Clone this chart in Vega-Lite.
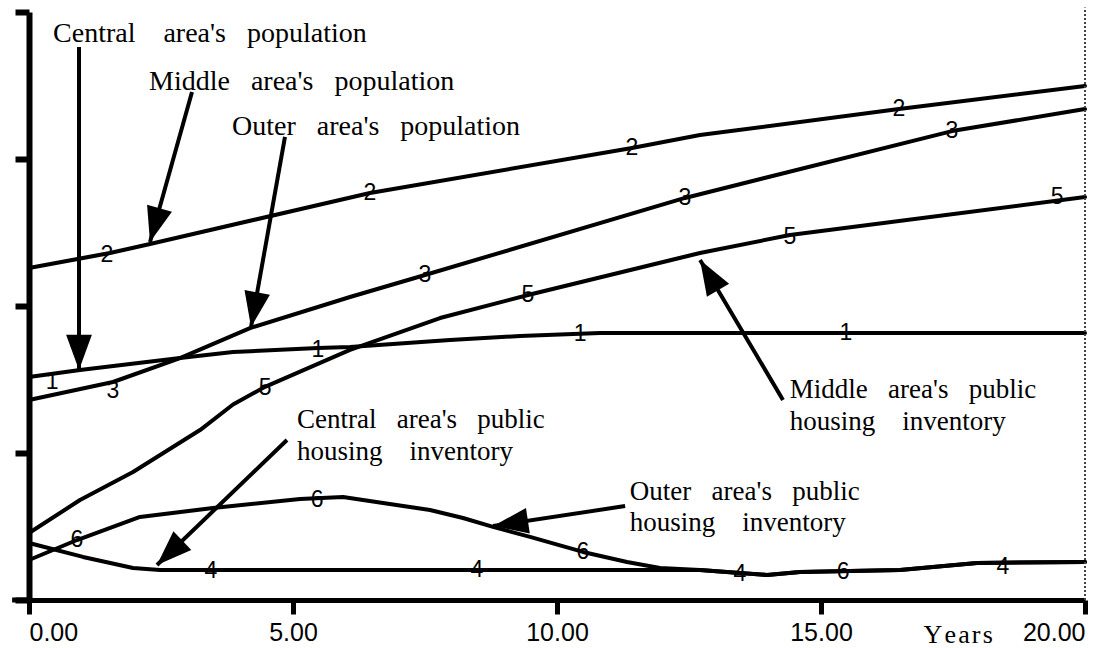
{
  "$schema": "https://vega.github.io/schema/vega-lite/v6.json",
  "width": 1056,
  "height": 588,
  "autosize": "none",
  "padding": {"left": 29, "top": 12, "right": 13, "bottom": 48},
  "background": "white",
  "config": {"view": {"stroke": null}},
  "datasets": {
    "series": [
      {"series": "1", "x": 0, "v": 1.517}, {"series": "1", "x": 0.966, "v": 1.565}, {"series": "1", "x": 2.86, "v": 1.646}, {"series": "1", "x": 3.864, "v": 1.687}, {"series": "1", "x": 5.473, "v": 1.714}, {"series": "1", "x": 6.08, "v": 1.721}, {"series": "1", "x": 7.973, "v": 1.769}, {"series": "1", "x": 9.299, "v": 1.796}, {"series": "1", "x": 10.814, "v": 1.816}, {"series": "1", "x": 20, "v": 1.816},
      {"series": "2", "x": 0, "v": 2.259}, {"series": "2", "x": 1.534, "v": 2.361}, {"series": "2", "x": 2.292, "v": 2.422}, {"series": "2", "x": 6.458, "v": 2.769}, {"series": "2", "x": 11.42, "v": 3.075}, {"series": "2", "x": 12.708, "v": 3.163}, {"series": "2", "x": 16.477, "v": 3.34}, {"series": "2", "x": 20, "v": 3.497},
      {"series": "3", "x": 0, "v": 1.361}, {"series": "3", "x": 1.591, "v": 1.483}, {"series": "3", "x": 2.86, "v": 1.646}, {"series": "3", "x": 4.186, "v": 1.85}, {"series": "3", "x": 6.08, "v": 2.061}, {"series": "3", "x": 7.5, "v": 2.211}, {"series": "3", "x": 12.424, "v": 2.735}, {"series": "3", "x": 17.481, "v": 3.19}, {"series": "3", "x": 20, "v": 3.34},
      {"series": "5", "x": 0, "v": 0.456}, {"series": "5", "x": 0.966, "v": 0.68}, {"series": "5", "x": 1.97, "v": 0.871}, {"series": "5", "x": 3.239, "v": 1.156}, {"series": "5", "x": 3.864, "v": 1.33}, {"series": "5", "x": 4.47, "v": 1.45}, {"series": "5", "x": 6.08, "v": 1.701}, {"series": "5", "x": 7.784, "v": 1.918}, {"series": "5", "x": 9.451, "v": 2.075}, {"series": "5", "x": 12.708, "v": 2.361}, {"series": "5", "x": 14.413, "v": 2.483}, {"series": "5", "x": 20, "v": 2.741},
      {"series": "4", "x": 0, "v": 0.388}, {"series": "4", "x": 1.023, "v": 0.293}, {"series": "4", "x": 1.97, "v": 0.218}, {"series": "4", "x": 2.481, "v": 0.204}, {"series": "4", "x": 12.708, "v": 0.204}, {"series": "4", "x": 13.466, "v": 0.184}, {"series": "4", "x": 13.977, "v": 0.17}, {"series": "4", "x": 14.602, "v": 0.19}, {"series": "4", "x": 16.496, "v": 0.204}, {"series": "4", "x": 17.955, "v": 0.252}, {"series": "4", "x": 20, "v": 0.259},
      {"series": "6", "x": 0, "v": 0.272}, {"series": "6", "x": 0.909, "v": 0.408}, {"series": "6", "x": 2.102, "v": 0.565}, {"series": "6", "x": 3.485, "v": 0.626}, {"series": "6", "x": 5.133, "v": 0.687}, {"series": "6", "x": 5.947, "v": 0.701}, {"series": "6", "x": 6.705, "v": 0.66}, {"series": "6", "x": 7.595, "v": 0.612}, {"series": "6", "x": 8.22, "v": 0.558}, {"series": "6", "x": 8.788, "v": 0.497}, {"series": "6", "x": 9.489, "v": 0.429}, {"series": "6", "x": 10.492, "v": 0.327}, {"series": "6", "x": 11.326, "v": 0.259}, {"series": "6", "x": 11.951, "v": 0.218}, {"series": "6", "x": 12.708, "v": 0.204}, {"series": "6", "x": 13.466, "v": 0.184}, {"series": "6", "x": 13.977, "v": 0.17}, {"series": "6", "x": 14.602, "v": 0.19}, {"series": "6", "x": 16.496, "v": 0.204}, {"series": "6", "x": 17.955, "v": 0.252}, {"series": "6", "x": 20, "v": 0.259}
    ],
    "digits": [
      {"label": "1", "x": 0.436, "v": 1.483}, {"label": "1", "x": 5.473, "v": 1.701}, {"label": "1", "x": 10.436, "v": 1.81}, {"label": "1", "x": 15.473, "v": 1.816},
      {"label": "2", "x": 1.477, "v": 2.347}, {"label": "2", "x": 6.458, "v": 2.769}, {"label": "2", "x": 11.42, "v": 3.075}, {"label": "2", "x": 16.477, "v": 3.34},
      {"label": "3", "x": 1.591, "v": 1.422}, {"label": "3", "x": 7.5, "v": 2.211}, {"label": "3", "x": 12.424, "v": 2.735}, {"label": "3", "x": 17.481, "v": 3.19},
      {"label": "4", "x": 3.447, "v": 0.197}, {"label": "4", "x": 8.485, "v": 0.204}, {"label": "4", "x": 13.466, "v": 0.177}, {"label": "4", "x": 18.447, "v": 0.224},
      {"label": "5", "x": 4.47, "v": 1.442}, {"label": "5", "x": 9.451, "v": 2.075}, {"label": "5", "x": 14.413, "v": 2.469}, {"label": "5", "x": 19.47, "v": 2.741},
      {"label": "6", "x": 0.909, "v": 0.408}, {"label": "6", "x": 5.455, "v": 0.68}, {"label": "6", "x": 10.492, "v": 0.327}, {"label": "6", "x": 15.417, "v": 0.19}
    ],
    "notes": [
      {"group": "top", "text": "Central\u00a0\u00a0\u00a0\u00a0area's\u00a0\u00a0\u00a0population", "x": 0.455, "v": 3.796},
      {"group": "top", "text": "Middle\u00a0\u00a0\u00a0area's\u00a0\u00a0\u00a0population", "x": 2.273, "v": 3.469},
      {"group": "top", "text": "Outer\u00a0\u00a0\u00a0area's\u00a0\u00a0\u00a0population", "x": 3.845, "v": 3.163},
      {"group": "low", "text": "Middle\u00a0\u00a0\u00a0area's\u00a0\u00a0\u00a0public", "x": 14.41, "v": 1.374},
      {"group": "low", "text": "housing\u00a0\u00a0\u00a0\u00a0inventory", "x": 14.41, "v": 1.156},
      {"group": "low", "text": "Central\u00a0\u00a0\u00a0area's\u00a0\u00a0\u00a0public", "x": 5.076, "v": 1.17},
      {"group": "low", "text": "housing\u00a0\u00a0\u00a0\u00a0inventory", "x": 5.076, "v": 0.952},
      {"group": "low", "text": "Outer\u00a0\u00a0\u00a0area's\u00a0\u00a0\u00a0public", "x": 11.38, "v": 0.68},
      {"group": "low", "text": "housing\u00a0\u00a0\u00a0\u00a0inventory", "x": 11.38, "v": 0.469}
    ],
    "arrows": [
      {"sx": 0.947, "sy": 3.762, "tx": 0.947, "ty": 1.565},
      {"sx": 3.087, "sy": 3.456, "tx": 2.292, "ty": 2.435},
      {"sx": 4.848, "sy": 3.15, "tx": 4.205, "ty": 1.857},
      {"sx": 14.28, "sy": 1.361, "tx": 12.71, "ty": 2.313},
      {"sx": 4.886, "sy": 1.088, "tx": 2.424, "ty": 0.238},
      {"sx": 11.29, "sy": 0.639, "tx": 8.79, "ty": 0.503}
    ]
  },
  "layer": [
    {
      "data": {"name": "series"},
      "mark": {"type": "line", "color": "black", "strokeWidth": 4, "strokeJoin": "round", "strokeCap": "round"},
      "encoding": {
        "x": {
          "field": "x", "type": "quantitative",
          "scale": {"domain": [0, 20], "nice": false, "zero": false},
          "axis": {
            "values": [0, 5, 10, 15, 20], "format": ".2f", "grid": false,
            "labelFont": "Liberation Sans", "labelFontSize": 25, "labelColor": "black", "labelPadding": 6, "labelFlush": true,
            "tickSize": 14, "tickWidth": 5, "tickColor": "black", "domainWidth": 5, "domainColor": "black",
            "title": "Y\u200ae\u200aa\u200ar\u200as", "titleFont": "Liberation Serif", "titleFontSize": 26, "titleFontWeight": "normal", "titleColor": "black",
            "titleX": 894, "titleY": 42, "titleAlign": "left", "titleBaseline": "alphabetic", "titleAngle": 0
          }
        },
        "y": {
          "field": "v", "type": "quantitative",
          "scale": {"domain": [0, 4], "nice": false, "zero": false},
          "axis": {
            "values": [0, 1, 2, 3, 4], "labels": false, "grid": false, "title": null,
            "tickSize": 14, "tickWidth": 6, "tickColor": "black", "domainWidth": 6, "domainColor": "black"
          }
        },
        "detail": {"field": "series"}
      }
    },
    {
      "data": {"values": [{"a": -0.32, "b": 0}]},
      "mark": {"type": "rule", "color": "black", "strokeWidth": 5, "clip": false},
      "encoding": {
        "x": {"field": "a", "type": "quantitative"},
        "x2": {"field": "b"},
        "y": {"datum": 0, "type": "quantitative"}
      }
    },
    {
      "data": {"values": [{"a": 0, "b": 4.03}]},
      "mark": {"type": "rule", "color": "#444", "strokeWidth": 2, "strokeDash": [2, 2], "clip": false},
      "encoding": {
        "x": {"datum": 20, "type": "quantitative"},
        "y": {"field": "a", "type": "quantitative"},
        "y2": {"field": "b"}
      }
    },
    {
      "data": {"name": "digits"},
      "mark": {"type": "text", "font": "Liberation Sans", "fontSize": 23, "color": "black", "align": "center", "baseline": "middle"},
      "encoding": {
        "x": {"field": "x", "type": "quantitative"},
        "y": {"field": "v", "type": "quantitative"},
        "text": {"field": "label"}
      }
    },
    {
      "data": {"name": "notes"},
      "mark": {"type": "text", "font": "Liberation Serif", "color": "black", "align": "left", "baseline": "alphabetic", "clip": false},
      "encoding": {
        "x": {"field": "x", "type": "quantitative"},
        "y": {"field": "v", "type": "quantitative"},
        "text": {"field": "text"},
        "size": {"field": "group", "type": "nominal", "scale": {"domain": ["top", "low"], "range": [28, 27]}, "legend": null}
      }
    },
    {
      "data": {"name": "arrows"},
      "mark": {"type": "rule", "color": "black", "strokeWidth": 4},
      "encoding": {
        "x": {"field": "sx", "type": "quantitative"},
        "y": {"field": "sy", "type": "quantitative"},
        "x2": {"field": "tx"},
        "y2": {"field": "ty"}
      }
    },
    {
      "data": {"name": "arrows"},
      "transform": [
        {"calculate": "atan2((datum.tx - datum.sx) * 52.8, (datum.ty - datum.sy) * 147) * 180 / PI", "as": "heading"}
      ],
      "mark": {"type": "point", "shape": "M0,0L-0.55,1.5L0.55,1.5Z", "filled": true, "size": 2200, "color": "black", "opacity": 1, "strokeWidth": 0},
      "encoding": {
        "x": {"field": "tx", "type": "quantitative"},
        "y": {"field": "ty", "type": "quantitative"},
        "angle": {"field": "heading", "type": "quantitative", "scale": null}
      }
    }
  ]
}
